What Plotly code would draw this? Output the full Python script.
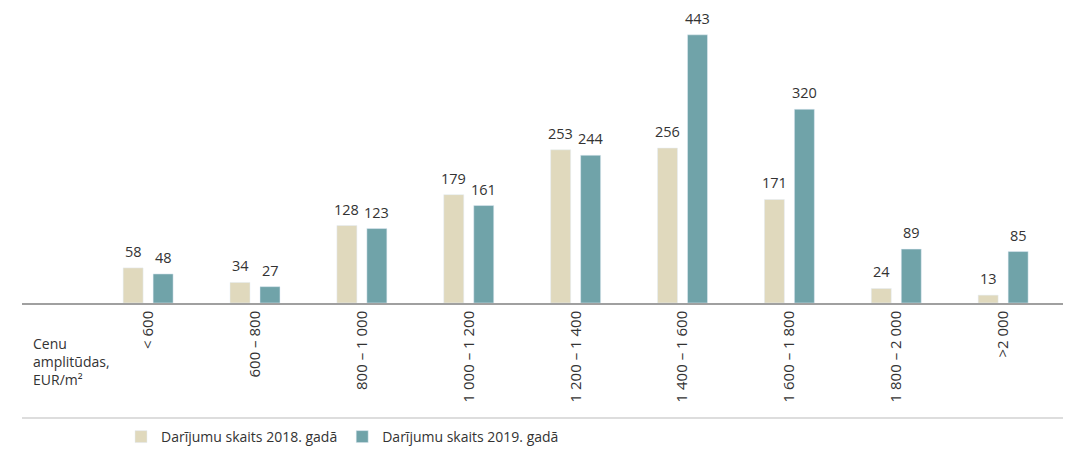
import plotly.graph_objects as go

categories = ["< 600", "600 – 800", "800 – 1 000", "1 000 – 1 200", "1 200 – 1 400",
              "1 400 – 1 600", "1 600 – 1 800", "1 800 – 2 000", ">2 000"]
values_2018 = [58, 34, 128, 179, 253, 256, 171, 24, 13]
values_2019 = [48, 27, 123, 161, 244, 443, 320, 89, 85]
name_2018 = "Darījumu skaits 2018. gadā"
name_2019 = "Darījumu skaits 2019. gadā"

# page body has an 8px margin, so the figure is offset by 8px
OFF = 8
W, H = 1071 - OFF, 449 - OFF
L, R, T, B = 22 - OFF, 8, 10 - OFF, 449 - 303
plot_h = H - T - B
plot_w = W - L - R

def py(px):
    # px is in reference (page) pixels
    return (H - B - (px - OFF)) / plot_h

def pxx(px):
    return (px - OFF - L) / plot_w

FONT = "Open Sans"
TXT = "#333333"
C2018 = "#E0D9BD"
C2019 = "#70A3A9"

fig = go.Figure()
fig.add_trace(go.Bar(x=categories, y=values_2018, name=name_2018, marker_color=C2018))
fig.add_trace(go.Bar(x=categories, y=values_2019, name=name_2019, marker_color=C2019))

# value labels, lifted above the bars
for vals, shift in ((values_2018, -15), (values_2019, 15)):
    for c, v in zip(categories, vals):
        fig.add_annotation(x=c, y=v, xshift=shift, yshift=6, text=str(v), showarrow=False,
                           yanchor="bottom", xanchor="center", borderpad=0,
                           font=dict(size=14.5, color=TXT))

fig.update_layout(
    width=W, height=H,
    margin=dict(l=L, r=R, t=T, b=B, autoexpand=False),
    barmode="group", bargap=0.439, bargroupgap=1 / 3,
    plot_bgcolor="white", paper_bgcolor="white",
    font=dict(family=FONT, size=14, color=TXT),
    showlegend=True,
    legend=dict(orientation="h", x=pxx(121), xanchor="left", y=py(437), yanchor="middle",
                font=dict(size=14, color=TXT), itemwidth=30, tracegroupgap=0,
                traceorder="normal"),
    xaxis=dict(range=[-1.18, 8.56], tickangle=-90, showline=True, linecolor="#A0A0A0",
               linewidth=1.5, ticks="", showgrid=False, automargin=False,
               tickfont=dict(size=15, color=TXT)),
    yaxis=dict(range=[0, 484], visible=False, showgrid=False, automargin=False),
)

fig.add_shape(type="line", xref="paper", yref="paper", x0=0, x1=1, y0=py(418), y1=py(418),
              line=dict(color="#DDDDDD", width=2))
fig.add_annotation(xref="paper", yref="paper", x=pxx(31), y=py(332),
                   xanchor="left", yanchor="top", align="left", showarrow=False,
                   text="Cenu<br>amplitūdas,<br>EUR/m²", font=dict(size=14, color=TXT))

fig.write_html("out.html")
